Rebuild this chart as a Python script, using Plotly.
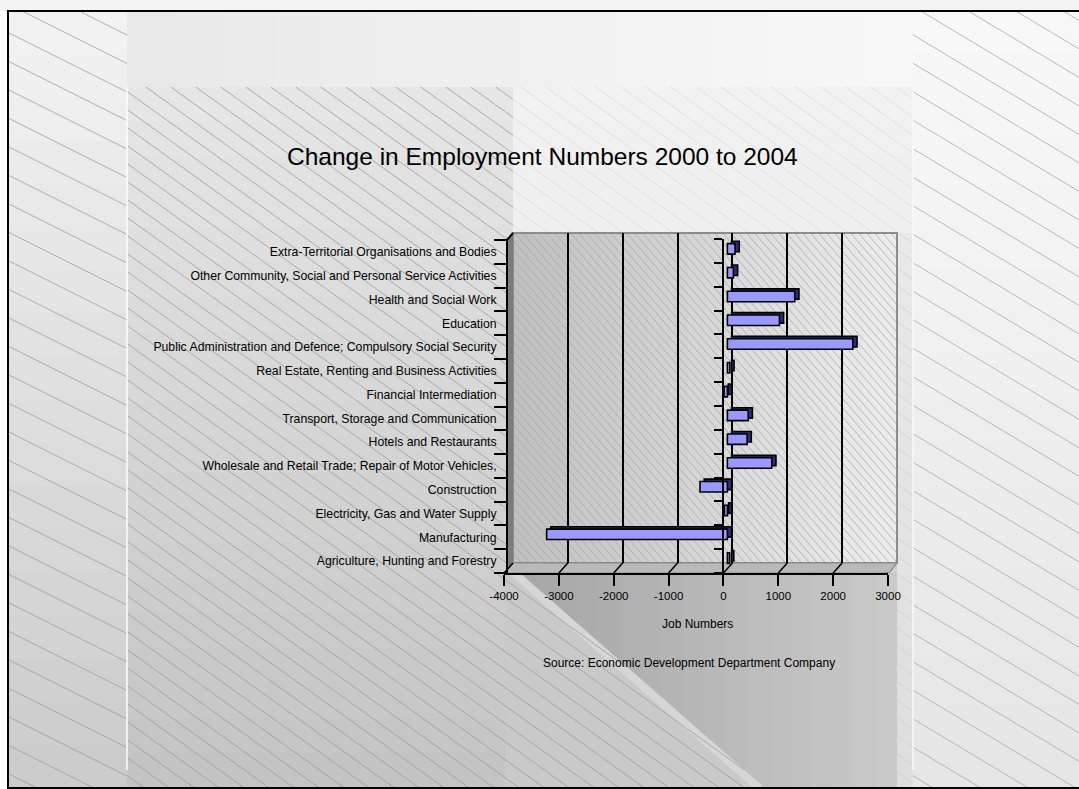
import plotly.graph_objects as go

W, H = 1079, 789

# ---------------- data ----------------
categories = [
    "Agriculture, Hunting and Forestry",
    "Manufacturing",
    "Electricity, Gas and Water Supply",
    "Construction",
    "Wholesale and Retail Trade; Repair of Motor Vehicles,",
    "Hotels and Restaurants",
    "Transport, Storage and Communication",
    "Financial Intermediation",
    "Real Estate, Renting and Business Activities",
    "Public Administration and Defence; Compulsory Social Security",
    "Education",
    "Health and Social Work",
    "Other Community, Social and Personal Service Activities",
    "Extra-Territorial Organisations and Bodies",
]
job_change = [40, -3300, -55, -500, 810, 360, 380, -60, 45, 2290, 950, 1230, 110, 140]
tick_values = [-4000, -3000, -2000, -1000, 0, 1000, 2000, 3000]
tick_labels = ["-4000", "-3000", "-2000", "-1000", "0", "1000", "2000", "3000"]

title_text = "Change in Employment Numbers 2000 to 2004"
axis_title = "Job Numbers"
source_text = "Source: Economic Development Department Company"

FONT = "Arial, 'Liberation Sans', sans-serif"


def X(px):
    return px / W


def Y(py):
    return 1 - py / H


def dom_x(a, b):
    return [a / W, b / W]


def dom_y(top, bottom):
    return [1 - bottom / H, 1 - top / H]


shapes = []


def hexmix(c1, c2, t):
    a = [int(c1[i:i + 2], 16) for i in (1, 3, 5)]
    b = [int(c2[i:i + 2], 16) for i in (1, 3, 5)]
    return "#%02x%02x%02x" % tuple(round(a[k] + (b[k] - a[k]) * t) for k in range(3))


def rect(x0, y0, x1, y1, fill, opacity=1.0):
    shapes.append(dict(type="rect", xref="paper", yref="paper",
                       x0=X(x0), x1=X(x1), y0=Y(y1), y1=Y(y0),
                       fillcolor=fill, opacity=opacity,
                       line=dict(color=fill, width=0), layer="below"))


def grad(x0, y0, x1, y1, c1, c2, n=16, vertical=True):
    for i in range(n):
        col = hexmix(c1, c2, i / (n - 1))
        if vertical:
            a = y0 + (y1 - y0) * i / n
            b = y0 + (y1 - y0) * (i + 1) / n
            rect(x0, a, x1, min(y1, b + 1), col)
        else:
            a = x0 + (x1 - x0) * i / n
            b = x0 + (x1 - x0) * (i + 1) / n
            rect(a, y0, min(x1, b + 1), y1, col)


def poly(pts, fill, line_color=None, line_width=0, opacity=1.0):
    path = "M " + " L ".join(f"{X(x):.6f},{Y(y):.6f}" for x, y in pts) + " Z"
    shapes.append(dict(type="path", xref="paper", yref="paper", path=path,
                       fillcolor=fill, opacity=opacity,
                       line=dict(color=line_color or fill, width=line_width),
                       layer="below"))


def seg(x0, y0, x1, y1, color, width):
    shapes.append(dict(type="line", xref="paper", yref="paper",
                       x0=X(x0), y0=Y(y0), x1=X(x1), y1=Y(y1),
                       line=dict(color=color, width=width), layer="below"))


def clip(p0, d, pts):
    cx = sum(p[0] for p in pts) / len(pts)
    cy = sum(p[1] for p in pts) / len(pts)
    tmin, tmax = -1e9, 1e9
    n = len(pts)
    for i in range(n):
        ax, ay = pts[i]
        bx, by = pts[(i + 1) % n]
        nx, ny = -(by - ay), (bx - ax)
        if nx * (cx - ax) + ny * (cy - ay) < 0:
            nx, ny = -nx, -ny
        num = nx * (p0[0] - ax) + ny * (p0[1] - ay)
        den = nx * d[0] + ny * d[1]
        if abs(den) < 1e-12:
            if num < 0:
                return None
            continue
        t = -num / den
        if den > 0:
            tmin = max(tmin, t)
        else:
            tmax = min(tmax, t)
    if tmin >= tmax - 1e-9:
        return None
    return (p0[0] + tmin * d[0], p0[1] + tmin * d[1],
            p0[0] + tmax * d[0], p0[1] + tmax * d[1])


def hatch(pts, slope, spacing, color, width, phase=0.0):
    vals = [p[1] - slope * p[0] for p in pts]
    lo, hi = min(vals), max(vals)
    b = lo - ((lo - phase) % spacing)
    while b <= hi:
        s = clip((0.0, b), (1.0, slope), pts)
        if s:
            seg(*s, color, width)
        b += spacing


def box(x0, y0, x1, y1):
    return [(x0, y0), (x1, y0), (x1, y1), (x0, y1)]


# ---------------- slide background ----------------
rect(0, 0, W, 11, "#f4f4f4")
grad(8, 11, 127, 788, "#f2f2f2", "#cccccc", n=18)            # left strip
grad(913, 11, 1079, 788, "#f8f8f8", "#e6e6e6", n=18)         # right strip
grad(127, 11, 913, 87, "#e9e9e9", "#f8f8f8", n=16, vertical=False)  # top band
grad(127, 87, 913, 788, "#e6e6e6", "#c4c4c4", n=20)          # chart area
grad(513, 573, 897, 788, "#a6a6a6", "#c9c9c9", n=18, vertical=False)  # dark wedge
poly([(505, 573), (519, 573), (765, 788), (505, 788)], "#c9c9c9")
seg(514, 573, 759, 788, "#d6d6d6", 8)

HC = "#9c9c9c"
hatch(box(8, 11, 127, 788), 0.5, 28.5, HC, 0.8)
hatch(box(913, 11, 1079, 788), 0.6, 28.5, "#a8a8a8", 0.8)
hatch(box(127, 87, 513, 788), 0.72, 18, HC, 0.8)
hatch(box(513, 87, 913, 233), 0.72, 18, HC, 0.8)
hatch(box(897, 233, 913, 788), 0.72, 18, HC, 0.8)
hatch([(513, 573), (519, 573), (765, 788), (513, 788)], 0.72, 18, HC, 0.8)
rect(513, 87, 913, 233, "#f6f6f6", opacity=0.7)
rect(897, 233, 913, 788, "#f0f0f0", opacity=0.6)

seg(127, 87, 127, 770, "#ffffff", 1.5)
seg(913, 87, 913, 770, "#f8f8f8", 1.5)

shapes.append(dict(type="rect", xref="paper", yref="paper",
                   x0=X(8), x1=X(1100), y0=Y(788), y1=Y(11),
                   fillcolor="rgba(0,0,0,0)", line=dict(color="#000000", width=2),
                   layer="below"))

# ---------------- 3-D plot box ----------------
grad(513, 233, 897, 563, "#c1c1c1", "#ececec", n=22, vertical=False)
hatch(box(513, 233, 897, 563), 1.15, 9.2, "#a2a2a2", 0.7)
shapes.append(dict(type="rect", xref="paper", yref="paper",
                   x0=X(513), x1=X(897), y0=Y(563), y1=Y(233),
                   fillcolor="rgba(0,0,0,0)", line=dict(color="#8c8c8c", width=2),
                   layer="below"))
poly([(507, 240), (513, 233), (513, 563), (507, 573)], "#7c7c7c")
poly([(505, 573), (889, 573), (897, 563), (513, 563)], "#b9b9b9", "#8a8a8a", 1.2)
seg(506, 241, 513, 233, "#000000", 2)

# floor lines joining the front ticks to the back-wall gridlines
for v in tick_values:
    shapes.append(dict(type="line", xref="x3", yref="paper",
                       xsizemode="pixel", xanchor=v, x0=0, x1=9,
                       ysizemode="pixel", yanchor=Y(573), y0=0, y1=10,
                       line=dict(color="#000000", width=1.5), layer="above"))

# ---------------- traces ----------------
bar_width = 0.44
cat_px = (573 - 240) / len(categories)
front_offset = -bar_width / 2 + 3.0 / cat_px
back_offset = front_offset + 2.4 / cat_px
px_per_unit = (891.7 - 508.3) / 7000.0
back_base = 4.2 / px_per_unit

fig = go.Figure()
fig.add_trace(go.Scatter(x=[], y=[], xaxis="x", yaxis="y", showlegend=False, hoverinfo="skip"))
fig.add_trace(go.Bar(
    y=categories, x=job_change, orientation="h", base=back_base,
    width=bar_width, offset=back_offset,
    marker=dict(color="#2e2e78", line=dict(color="#000000", width=1.6)),
    xaxis="x2", yaxis="y2", hoverinfo="skip", showlegend=False))
fig.add_trace(go.Bar(
    y=categories, x=job_change, orientation="h",
    width=bar_width, offset=front_offset,
    marker=dict(color="#9999ff", line=dict(color="#000000", width=1.6)),
    xaxis="x2", yaxis="y2", showlegend=False,
    hovertemplate="%{y}: %{x}<extra></extra>"))
fig.add_trace(go.Scatter(x=[], y=[], xaxis="x3", yaxis="y3", showlegend=False, hoverinfo="skip"))

fig.update_layout(
    width=W, height=H, autosize=False,
    margin=dict(l=0, r=0, t=0, b=0, pad=0, autoexpand=False),
    paper_bgcolor="#ffffff",
    plot_bgcolor="rgba(0,0,0,0)",
    barmode="overlay",
    showlegend=False,
    font=dict(family=FONT, color="#000000"),
    shapes=shapes,
    # back wall gridlines
    xaxis=dict(domain=dom_x(513, 897), range=[-4000, 3000], anchor="y",
               tickvals=tick_values[1:-1], showticklabels=False, ticks="",
               showgrid=True, gridcolor="#000000", gridwidth=2,
               zeroline=False, showline=False, fixedrange=True, automargin=False),
    yaxis=dict(domain=dom_y(233, 563), range=[0, 1], visible=False,
               fixedrange=True, automargin=False),
    # bars + category axis
    xaxis2=dict(domain=dom_x(508.3, 891.7), range=[-4000, 3000], anchor="y2",
                visible=False, fixedrange=True, automargin=False),
    yaxis2=dict(domain=dom_y(240, 573), type="category",
                categoryorder="array", categoryarray=categories,
                range=[-0.5, len(categories) - 0.5],
                anchor="free", position=X(507), side="left",
                showline=True, linecolor="#000000", linewidth=2,
                ticks="outside", ticklen=12, tickwidth=1.5, tickcolor="#000000",
                tickson="boundaries", ticklabelstandoff=7,
                showgrid=False, zeroline=False,
                tickfont=dict(family=FONT, size=12.25, color="#000000"),
                fixedrange=True, automargin=False),
    # front value axis + axis at zero
    xaxis3=dict(domain=dom_x(504, 888), range=[-4000, 3000], anchor="y3",
                side="bottom", tickmode="array", tickvals=tick_values, ticktext=tick_labels,
                ticks="outside", ticklen=11, tickwidth=1.5, tickcolor="#000000",
                showline=True, linecolor="#000000", linewidth=2,
                showgrid=False, zeroline=False,
                tickfont=dict(family=FONT, size=11.5, color="#000000"),
                fixedrange=True, automargin=False),
    yaxis3=dict(domain=dom_y(239, 573), range=[0, len(categories)],
                anchor="free", position=X(723), side="left",
                tickmode="linear", tick0=0, dtick=1,
                ticks="outside", ticklen=8, tickwidth=1.5, tickcolor="#000000",
                showline=True, linecolor="#000000", linewidth=2,
                showticklabels=False, showgrid=False, zeroline=False,
                fixedrange=True, automargin=False),
    annotations=[
        dict(text=title_text, x=X(542), y=Y(156), xref="paper", yref="paper",
             xanchor="center", yanchor="middle", showarrow=False,
             font=dict(family=FONT, size=24.5, color="#000000")),
        dict(text=axis_title, x=X(697), y=Y(624), xref="paper", yref="paper",
             xanchor="center", yanchor="middle", showarrow=False,
             font=dict(family=FONT, size=12, color="#000000")),
        dict(text=source_text, x=X(541), y=Y(663), xref="paper", yref="paper",
             xanchor="left", yanchor="middle", showarrow=False,
             font=dict(family=FONT, size=12, color="#000000")),
    ],
)

fig.write_html("out.html", config={"displayModeBar": False},
               post_script="document.body.style.margin='0';document.body.style.overflow='hidden';")
